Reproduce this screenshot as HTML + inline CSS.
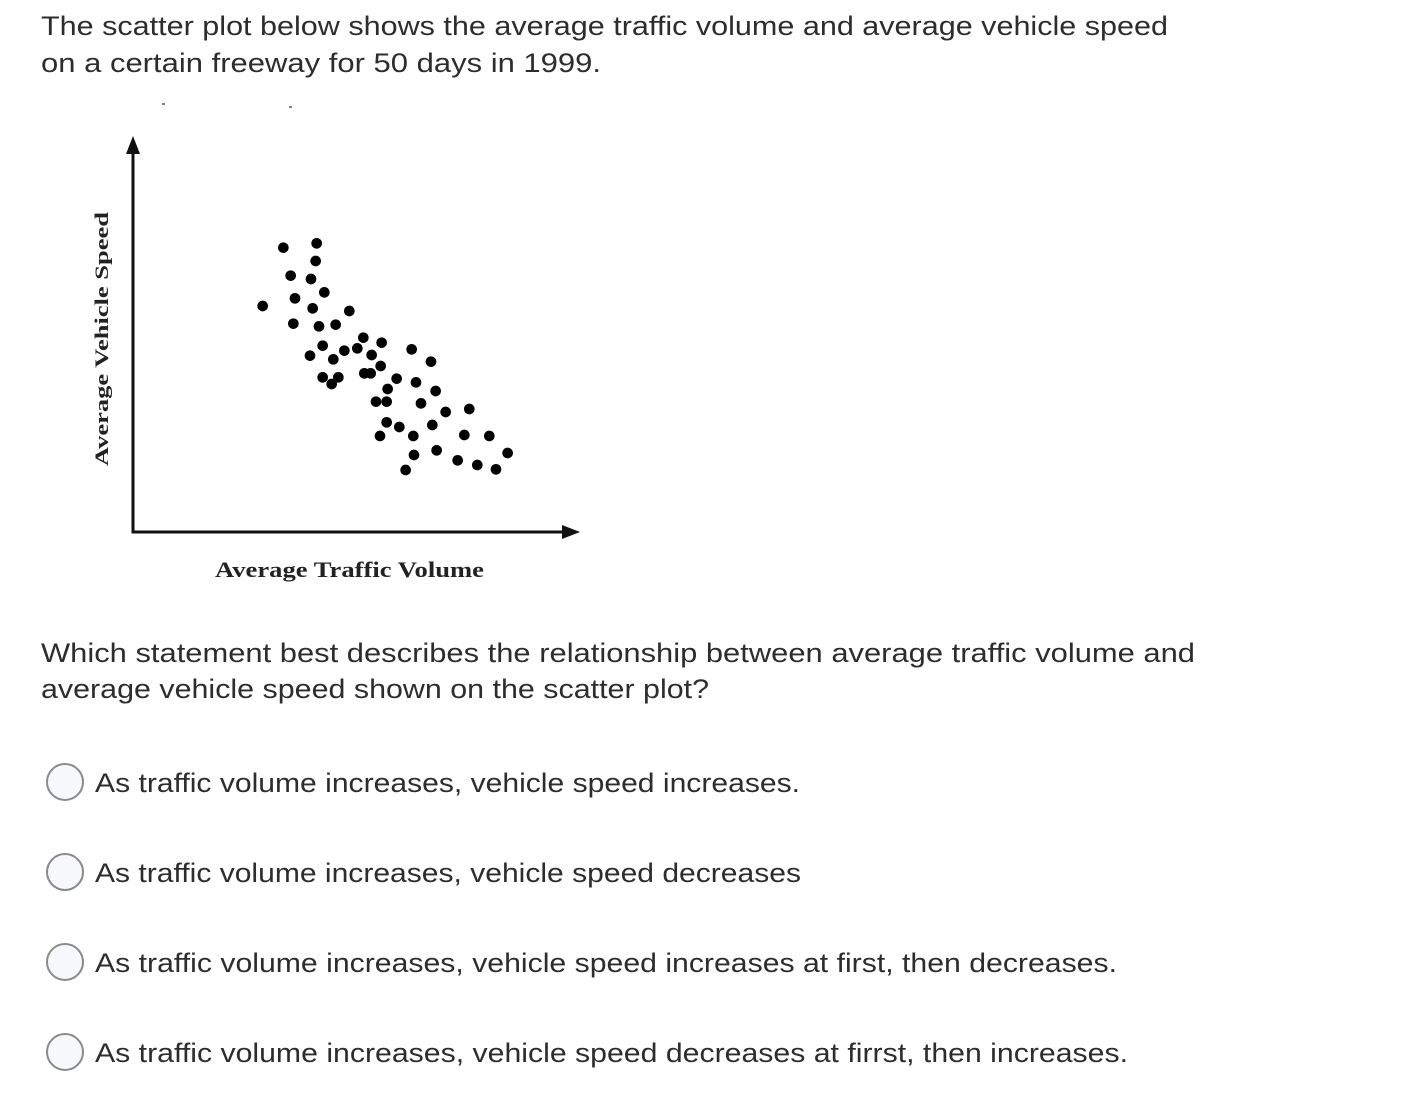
<!DOCTYPE html>
<html><head><style>body{margin:0;background:#fff}svg{display:block}</style></head><body>
<svg width="1426" height="1096" xmlns="http://www.w3.org/2000/svg">
<g font-family="Liberation Sans, sans-serif" font-size="27" fill="#2d2d2d">
<text x="41" y="35" textLength="1127" lengthAdjust="spacingAndGlyphs">The scatter plot below shows the average traffic volume and average vehicle speed</text>
<text x="41" y="72" textLength="560" lengthAdjust="spacingAndGlyphs">on a certain freeway for 50 days in 1999.</text>
<text x="41" y="662" textLength="1154" lengthAdjust="spacingAndGlyphs">Which statement best describes the relationship between average traffic volume and</text>
<text x="41" y="698" textLength="668" lengthAdjust="spacingAndGlyphs">average vehicle speed shown on the scatter plot?</text>
<text x="95" y="792" textLength="705" lengthAdjust="spacingAndGlyphs">As traffic volume increases, vehicle speed increases.</text>
<text x="95" y="882" textLength="706" lengthAdjust="spacingAndGlyphs">As traffic volume increases, vehicle speed decreases</text>
<text x="95" y="972" textLength="1022" lengthAdjust="spacingAndGlyphs">As traffic volume increases, vehicle speed increases at first, then decreases.</text>
<text x="95" y="1062" textLength="1033" lengthAdjust="spacingAndGlyphs">As traffic volume increases, vehicle speed decreases at firrst, then increases.</text>
</g>
<g fill="#f7f8fb" stroke="#8a8a8a" stroke-width="2">
<circle cx="65" cy="782" r="18"/><circle cx="65" cy="872" r="18"/><circle cx="65" cy="962" r="18"/><circle cx="65" cy="1052" r="18"/>
</g>
<g stroke="#111" stroke-width="3" fill="none">
<line x1="133" y1="148" x2="133" y2="533"/><line x1="131.5" y1="532" x2="568" y2="532"/>
</g>
<polygon points="133,136 126,154 140,154" fill="#111"/>
<polygon points="580,532 562,525 562,539" fill="#111"/>
<line x1="162" y1="104" x2="165" y2="104" stroke="#555" stroke-width="1.5"/>
<line x1="289" y1="107" x2="292" y2="107" stroke="#555" stroke-width="1.5"/>
<g font-family="Liberation Serif, serif" font-weight="bold" fill="#222">
<text x="215" y="577" font-size="22" textLength="269" lengthAdjust="spacingAndGlyphs">Average Traffic Volume</text>
<text transform="translate(108,466) rotate(-90)" font-size="19" textLength="254" lengthAdjust="spacingAndGlyphs">Average Vehicle Speed</text>
</g>
<g transform="translate(240,225) scale(0.3333)" fill="#000">
<circle cx="130" cy="68" r="16"/><circle cx="230" cy="55" r="16"/><circle cx="227" cy="108" r="16"/><circle cx="152" cy="152" r="16"/><circle cx="213" cy="162" r="16"/><circle cx="253" cy="202" r="16"/><circle cx="165" cy="220" r="16"/><circle cx="68" cy="243" r="16"/><circle cx="218" cy="250" r="16"/><circle cx="328" cy="258" r="16"/><circle cx="160" cy="296" r="16"/><circle cx="237" cy="304" r="16"/><circle cx="287" cy="299" r="16"/><circle cx="370" cy="338" r="16"/><circle cx="425" cy="353" r="16"/><circle cx="248" cy="362" r="16"/><circle cx="210" cy="392" r="16"/><circle cx="280" cy="403" r="16"/><circle cx="313" cy="377" r="16"/><circle cx="352" cy="370" r="16"/><circle cx="395" cy="390" r="16"/><circle cx="422" cy="423" r="16"/><circle cx="515" cy="373" r="16"/><circle cx="573" cy="410" r="16"/><circle cx="248" cy="457" r="16"/><circle cx="275" cy="477" r="16"/><circle cx="295" cy="457" r="16"/><circle cx="373" cy="445" r="16"/><circle cx="392" cy="445" r="16"/><circle cx="470" cy="461" r="16"/><circle cx="443" cy="492" r="16"/><circle cx="528" cy="472" r="16"/><circle cx="587" cy="498" r="16"/><circle cx="408" cy="530" r="16"/><circle cx="440" cy="530" r="16"/><circle cx="543" cy="535" r="16"/><circle cx="617" cy="561" r="16"/><circle cx="688" cy="552" r="16"/><circle cx="440" cy="592" r="16"/><circle cx="478" cy="606" r="16"/><circle cx="577" cy="600" r="16"/><circle cx="420" cy="633" r="16"/><circle cx="520" cy="633" r="16"/><circle cx="673" cy="630" r="16"/><circle cx="748" cy="633" r="16"/><circle cx="522" cy="690" r="16"/><circle cx="590" cy="676" r="16"/><circle cx="653" cy="706" r="16"/><circle cx="712" cy="720" r="16"/><circle cx="768" cy="733" r="16"/><circle cx="803" cy="684" r="16"/><circle cx="497" cy="735" r="16"/>
</g>
</svg>
</body></html>
